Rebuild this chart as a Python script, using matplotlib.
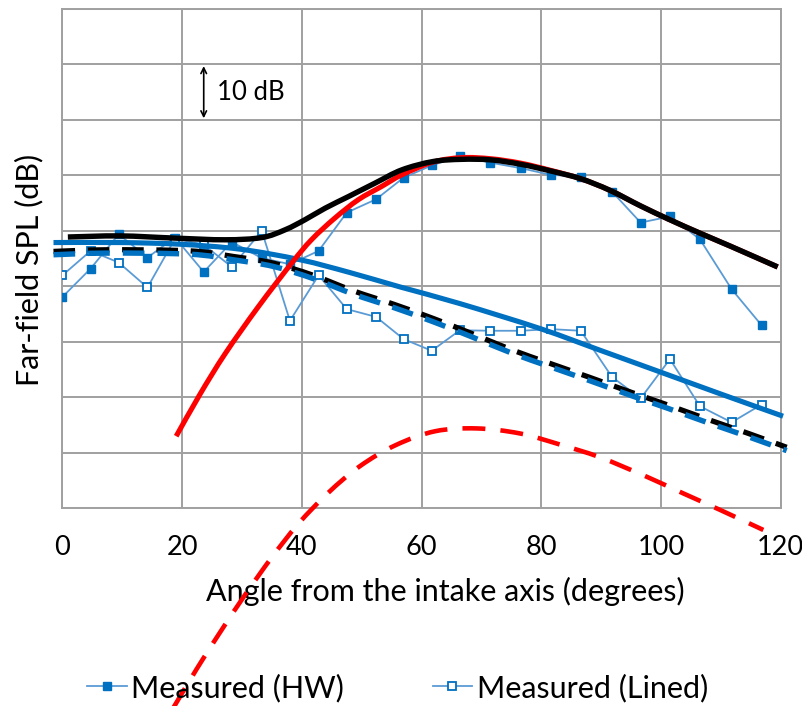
import matplotlib
matplotlib.use('Agg')
import matplotlib.pyplot as plt
from matplotlib.path import Path
from matplotlib.patches import PathPatch
import numpy as np

plt.rcParams['font.family'] = ['Lato', 'DejaVu Sans']

# measured directivity (relative dB, 10 dB per grid division)
angles = [0, 4.7, 9.4, 14.2, 18.8, 23.6, 28.3, 33.3, 38.0, 42.8, 47.5, 52.4, 57.0,
          61.7, 66.4, 71.5, 76.6, 81.6, 86.6, 91.8, 96.6, 101.5, 106.5, 111.8, 116.8]
spl_hw = [38.1, 43.2, 49.4, 45.2, 48.8, 42.6, 48.0, 45.1, 44.0, 46.4, 53.3, 55.7, 59.6,
          61.8, 63.5, 62.3, 61.3, 60.1, 59.8, 57.1, 51.5, 52.6, 48.5, 39.5, 33.0]
spl_lined = [42.0, 46.4, 44.3, 39.8, 48.6, 47.5, 43.5, 50.0, 33.8, 42.0, 35.9, 34.5, 30.5,
             28.4, 32.1, 32.0, 32.0, 32.3, 32.0, 23.7, 19.8, 26.9, 18.4, 15.5, 18.7]

# predictions
ang_black = [0.9, 9.6, 18.8, 27.2, 33.3, 37.2, 40.5, 43.9, 47.8, 52.2, 56.7, 61.9, 66.7,
             71.6, 76.6, 81.6, 86.6, 91.5, 96.6, 101.5, 106.5, 111.7, 119.5]
spl_black = [48.9, 49.1, 48.7, 48.4, 48.8, 50.2, 52.0, 54.1, 56.2, 58.6, 61.0, 62.5, 62.9,
             62.8, 62.0, 60.8, 59.4, 57.3, 54.5, 52.0, 49.6, 47.2, 43.5]

ang_red = [19.0, 23.0, 27.2, 32.7, 38.3, 41.6, 45.5, 49.4, 53.3, 56.7, 61.9, 66.7,
           71.6, 76.6, 81.6, 86.6, 91.5, 96.6, 101.5, 106.5, 111.7, 119.5]
spl_red = [13.0, 20.6, 27.9, 36.3, 44.2, 48.4, 52.3, 55.6, 58.0, 60.1, 62.4, 63.2,
           63.0, 62.2, 60.9, 59.4, 57.3, 54.5, 52.0, 49.6, 47.2, 43.5]

ang_blue = [-1.5, 9.6, 19.6, 29.7, 39.7, 48.0, 56.4, 66.4, 79.8, 89.8, 99.8, 110.0, 120.4]
spl_blue = [47.9, 47.9, 47.6, 46.7, 44.8, 42.5, 39.9, 36.9, 32.4, 28.5, 24.6, 20.6, 16.6]

ang_dash = [-1.5, 7.4, 21.3, 28.5, 35.2, 41.9, 48.6, 55.3, 62.0, 68.4, 75.0, 81.5, 88.1,
            94.8, 101.2, 107.9, 114.6, 121.0]
spl_dash_black = [46.3, 46.6, 46.4, 45.4, 44.2, 42.0, 39.2, 36.8, 34.2, 31.5, 28.6, 26.1,
                  23.6, 21.0, 18.6, 16.0, 13.5, 11.0]
spl_dash_blue = [45.7, 46.0, 45.8, 44.8, 43.6, 41.4, 38.6, 36.2, 33.6, 30.9, 28.0, 25.5,
                 23.0, 20.4, 18.0, 15.4, 12.9, 10.4]

ang_red_dash = [18.5, 22.4, 26.3, 30.5, 35.0, 39.4, 44.4, 49.7, 55.7, 62.3, 69.2, 76.4,
                83.1, 89.8, 97.6, 103.7, 109.9, 117.1]
spl_red_dash = [-36.0, -29.0, -22.4, -15.6, -8.8, -2.8, 2.8, 7.6, 11.4, 13.9, 14.4, 13.5,
                11.5, 9.2, 5.7, 2.7, -0.3, -3.9]

blue = '#0070C0'
grid_c = '#A0A0A0'


def smooth_curve(ax, xs, ys, **kw):
    # Excel-style smoothed line: cubic Bezier segments through the points
    p = np.column_stack([xs, ys]).astype(float)
    verts = [p[0]]
    codes = [Path.MOVETO]
    n = len(p)
    for i in range(n - 1):
        p0 = p[i - 1] if i > 0 else p[i]
        p3 = p[i + 2] if i + 2 < n else p[i + 1]
        c1 = p[i] + (p[i + 1] - p0) / 6.0
        c2 = p[i + 1] - (p3 - p[i]) / 6.0
        verts += [c1, c2, p[i + 1]]
        codes += [Path.CURVE4] * 3
    patch = PathPatch(Path(verts, codes), fill=False, clip_on=False, capstyle='butt',
                      joinstyle='round', **kw)
    ax.add_patch(patch)
    return patch


fig = plt.figure(figsize=(8.03, 7.06), dpi=100)
ax = fig.add_axes([0.0778, 0.280, 0.8944, 0.7073])

hw, = ax.plot(angles, spl_hw, color='#5B9BD5', lw=1.3, marker='s', ms=5.5,
              mfc=blue, mec=blue, label='Measured (HW)', zorder=3)
ln, = ax.plot(angles, spl_lined, color='#5B9BD5', lw=1.3, marker='s', ms=5.5,
              mfc='white', mec=blue, mew=1.3, label='Measured (Lined)', zorder=3)

smooth_curve(ax, ang_dash, spl_dash_black, edgecolor='black', lw=3.8,
             ls=(0, (4.1, 2.4)), zorder=4)
smooth_curve(ax, ang_dash, spl_dash_blue, edgecolor=blue, lw=3.9,
             ls=(0, (4.0, 2.4)), zorder=5)
smooth_curve(ax, ang_blue, spl_blue, edgecolor=blue, lw=3.7, zorder=6)
smooth_curve(ax, ang_red_dash, spl_red_dash, edgecolor='#FF0000', lw=3.3,
             ls=(0, (5.0, 3.3)), zorder=6)
smooth_curve(ax, ang_red, spl_red, edgecolor='#FF0000', lw=3.7, zorder=7)
smooth_curve(ax, ang_black, spl_black, edgecolor='black', lw=3.9, zorder=8)

# 10 dB scale marker
ax.annotate('', xy=(23.6, 80.2), xytext=(23.6, 69.8),
            arrowprops=dict(arrowstyle='<->', color='black', lw=1.2))
ax.text(25.8, 75, '10 dB', fontsize=18.5, va='center', ha='left')

ax.set_xlim(0, 120)
ax.set_ylim(0, 90)
ax.set_xticks(range(0, 121, 20))
ax.set_yticks(range(0, 91, 10))
ax.set_yticklabels([])
ax.tick_params(length=0, labelsize=19.5, pad=19)
ax.grid(True, color=grid_c, lw=1.4)
ax.set_axisbelow(True)
for s in ax.spines.values():
    s.set_color(grid_c)
    s.set_linewidth(1.4)

ax.set_xlabel('Angle from the intake axis (degrees)', fontsize=22)
ax.xaxis.set_label_coords(0.533, -0.138)
ax.set_ylabel('Far-field SPL (dB)', fontsize=22)
ax.yaxis.set_label_coords(-0.027, 0.477)

fig.legend(handles=[hw, ln], loc='center', bbox_to_anchor=(0.495, 0.026), ncol=2,
           frameon=False, fontsize=22, handlelength=1.3, handletextpad=0.15,
           columnspacing=2.9)

fig.savefig('out.png', dpi=100)
